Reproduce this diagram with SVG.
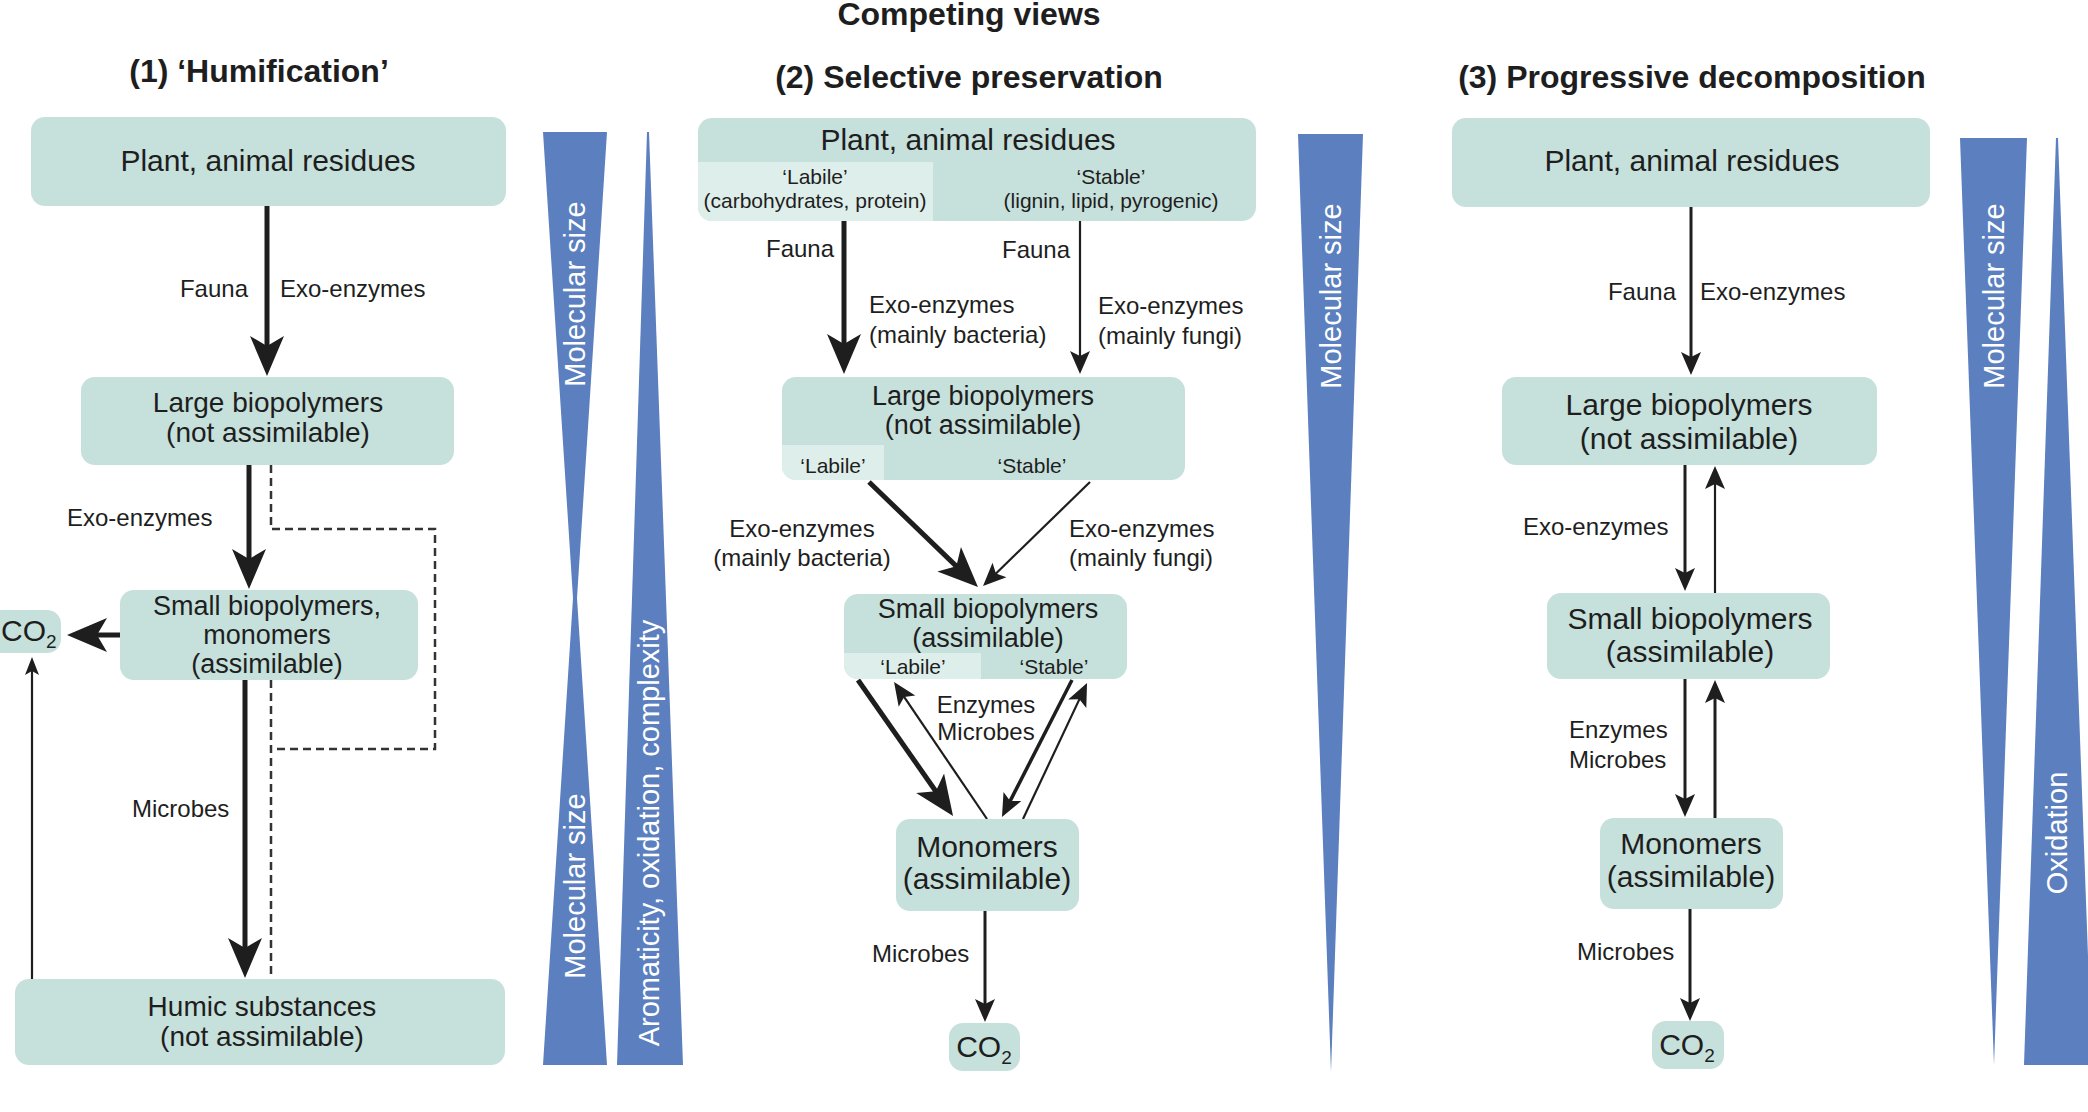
<svg xmlns="http://www.w3.org/2000/svg" width="2088" height="1112" viewBox="0 0 2088 1112">
<style>
.box{fill:#c6e0db}
.lite{fill:#deeeea}
text{font-family:"Liberation Sans",Arial,Helvetica,sans-serif;fill:#1e1e1e}
.bt{font-size:30px;text-anchor:middle}
.bt28{font-size:28px;text-anchor:middle}
.bt27{font-size:27px;text-anchor:middle}
.lb{font-size:24px}
.sb{font-size:21px;text-anchor:middle}
.ttl{font-size:32px;font-weight:bold;text-anchor:middle}
.wedge{fill:#5b7fbf}
.wl{font-size:29px;fill:#ffffff;text-anchor:middle}
.ln{stroke:#1e1e1e;fill:none}
.w5{stroke-width:5}
.w35{stroke-width:3.5}
.w3{stroke-width:3}
.w2{stroke-width:2.2}
.dash{stroke:#333;stroke-width:2.5;stroke-dasharray:8 5;fill:none}
.big{marker-end:url(#ah-big)}
.mid{marker-end:url(#ah-mid)}
.sml{marker-end:url(#ah-sml)}
.hd{fill:#1e1e1e}
</style>
<defs>
<marker id="ah-big" markerUnits="userSpaceOnUse" viewBox="-14 -18 44 36" markerWidth="44" markerHeight="36" refX="0" refY="0" orient="auto"><path class="hd" d="M28,0 L-12,-17 L-2,0 L-12,17 Z"/></marker>
<marker id="ah-mid" markerUnits="userSpaceOnUse" viewBox="-8 -11 27 22" markerWidth="27" markerHeight="22" refX="0" refY="0" orient="auto"><path class="hd" d="M17,0 L-6,-10 L-1,0 L-6,10 Z"/></marker>
<marker id="ah-sml" markerUnits="userSpaceOnUse" viewBox="-7 -8 22 16" markerWidth="22" markerHeight="16" refX="0" refY="0" orient="auto"><path class="hd" d="M13,0 L-5,-7 L-1,0 L-5,7 Z"/></marker>
<clipPath id="cp-p2a"><rect x="698" y="118" width="558" height="103" rx="14"/></clipPath>
<clipPath id="cp-p2b"><rect x="782" y="377" width="403" height="103" rx="14"/></clipPath>
<clipPath id="cp-p2c"><rect x="844" y="594" width="283" height="85" rx="14"/></clipPath>
</defs>

<g id="titles">
<text class="ttl" x="969" y="25">Competing views</text>
<text class="ttl" x="259" y="82">(1) ‘Humification’</text>
<text class="ttl" x="969" y="88">(2) Selective preservation</text>
<text class="ttl" x="1692" y="88">(3) Progressive decomposition</text>
</g>

<g id="wedges">
<polygon class="wedge" points="543,132 607,132 577,598 607,1065 543,1065 573,598"/>
<polygon class="wedge" points="647,132 649,132 683,1065 617,1065"/>
<polygon class="wedge" points="1298,134 1363,134 1331,1072"/>
<polygon class="wedge" points="1960,138 2027,138 1994,1065"/>
<polygon class="wedge" points="2056,138 2058,138 2092,1065 2024,1065"/>
<text class="wl" transform="translate(575,294) rotate(-90)" dy="10">Molecular size</text>
<text class="wl" transform="translate(575,886) rotate(-90)" dy="10">Molecular size</text>
<text class="wl" transform="translate(649,833) rotate(-90)" dy="10">Aromaticity, oxidation, complexity</text>
<text class="wl" transform="translate(1331,296) rotate(-90)" dy="10">Molecular size</text>
<text class="wl" transform="translate(1994,296) rotate(-90)" dy="10">Molecular size</text>
<text class="wl" transform="translate(2057,833) rotate(-90)" dy="10">Oxidation</text>
</g>

<g id="connectors">
<line class="ln w5 big" x1="267" y1="206" x2="267" y2="348"/>
<line class="ln w5 big" x1="249" y1="465" x2="249" y2="561"/>
<line class="ln w5 big" x1="245" y1="680" x2="245" y2="950"/>
<line class="ln w5 big" x1="120" y1="635" x2="95" y2="635"/>
<line class="ln w2 sml" x1="32" y1="979" x2="32" y2="670"/>
<path class="dash" d="M271,465 V529 H435 V749 H271"/>
<line class="dash" x1="271" y1="680" x2="271" y2="979"/>

<line class="ln w5 big" x1="844" y1="221" x2="844" y2="346"/>
<line class="ln w2 mid" x1="1080" y1="221" x2="1080" y2="357"/>
<line class="ln w5 big" x1="869" y1="482" x2="957.8" y2="567.6"/>
<line class="ln w2 mid" x1="1090" y1="482" x2="995.2" y2="574.2"/>
<line class="ln w5 big" x1="858" y1="680" x2="937" y2="793"/>
<line class="ln w2 mid" x1="987" y1="819" x2="903.6" y2="696.1"/>
<line class="ln w35 mid" x1="1072" y1="680" x2="1009.7" y2="801.9"/>
<line class="ln w2 mid" x1="1023" y1="819" x2="1079.8" y2="698.4"/>
<line class="ln w3 mid" x1="985" y1="911" x2="985" y2="1005"/>

<line class="ln w3 mid" x1="1691" y1="207" x2="1691" y2="358"/>
<line class="ln w3 mid" x1="1685" y1="465" x2="1685" y2="574"/>
<line class="ln w2 mid" x1="1715" y1="593" x2="1715" y2="483"/>
<line class="ln w3 mid" x1="1685" y1="679" x2="1685" y2="800"/>
<line class="ln w3 mid" x1="1715" y1="818" x2="1715" y2="697"/>
<line class="ln w3 mid" x1="1690" y1="909" x2="1690" y2="1004"/>
</g>

<g id="labels">
<text class="lb" x="248" y="297" text-anchor="end">Fauna</text>
<text class="lb" x="280" y="297">Exo-enzymes</text>
<text class="lb" x="67" y="526">Exo-enzymes</text>
<text class="lb" x="132" y="817">Microbes</text>

<text class="lb" x="766" y="257">Fauna</text>
<text class="lb" x="1002" y="258">Fauna</text>
<text class="lb"><tspan x="869" y="313">Exo-enzymes</tspan><tspan x="869" y="343">(mainly bacteria)</tspan></text>
<text class="lb"><tspan x="1098" y="314">Exo-enzymes</tspan><tspan x="1098" y="344">(mainly fungi)</tspan></text>
<text class="lb" text-anchor="middle"><tspan x="802" y="537">Exo-enzymes</tspan><tspan x="802" y="566">(mainly bacteria)</tspan></text>
<text class="lb"><tspan x="1069" y="537">Exo-enzymes</tspan><tspan x="1069" y="566">(mainly fungi)</tspan></text>
<text class="lb" text-anchor="middle"><tspan x="986" y="713">Enzymes</tspan><tspan x="986" y="740">Microbes</tspan></text>
<text class="lb" x="872" y="962">Microbes</text>

<text class="lb" x="1676" y="300" text-anchor="end">Fauna</text>
<text class="lb" x="1700" y="300">Exo-enzymes</text>
<text class="lb" x="1523" y="535">Exo-enzymes</text>
<text class="lb"><tspan x="1569" y="738">Enzymes</tspan><tspan x="1569" y="768">Microbes</tspan></text>
<text class="lb" x="1577" y="960">Microbes</text>
</g>

<g id="p1-plant">
<rect class="box" x="31" y="117" width="475" height="89" rx="14"/>
<text class="bt" x="268" y="171">Plant, animal residues</text>
</g>
<g id="p1-large">
<rect class="box" x="81" y="377" width="373" height="88" rx="14"/>
<text class="bt28"><tspan x="268" y="412">Large biopolymers</tspan><tspan x="268" y="442">(not assimilable)</tspan></text>
</g>
<g id="p1-small">
<rect class="box" x="120" y="590" width="298" height="90" rx="14"/>
<text class="bt27"><tspan x="267" y="615">Small biopolymers,</tspan><tspan x="267" y="644">monomers</tspan><tspan x="267" y="673">(assimilable)</tspan></text>
</g>
<g id="p1-co2">
<rect class="box" x="-14" y="610" width="75" height="43" rx="14"/>
<text x="1" y="641" font-size="30">CO<tspan dy="7" font-size="19">2</tspan></text>
</g>
<g id="p1-humic">
<rect class="box" x="15" y="979" width="490" height="86" rx="14"/>
<text class="bt28"><tspan x="262" y="1016">Humic substances</tspan><tspan x="262" y="1046">(not assimilable)</tspan></text>
</g>

<g id="p2-plant">
<rect class="box" x="698" y="118" width="558" height="103" rx="14"/>
<rect class="lite" x="698" y="162" width="235" height="59" clip-path="url(#cp-p2a)"/>
<text class="bt" x="968" y="150">Plant, animal residues</text>
<text class="sb"><tspan x="815" y="184">‘Labile’</tspan><tspan x="815" y="208">(carbohydrates, protein)</tspan></text>
<text class="sb"><tspan x="1111" y="184">‘Stable’</tspan><tspan x="1111" y="208">(lignin, lipid, pyrogenic)</tspan></text>
</g>
<g id="p2-large">
<rect class="box" x="782" y="377" width="403" height="103" rx="14"/>
<rect class="lite" x="782" y="445" width="102" height="35" clip-path="url(#cp-p2b)"/>
<text class="bt27"><tspan x="983" y="405">Large biopolymers</tspan><tspan x="983" y="434">(not assimilable)</tspan></text>
<text class="sb" x="833" y="473">‘Labile’</text>
<text class="sb" x="1032" y="473">‘Stable’</text>
</g>
<g id="p2-small">
<rect class="box" x="844" y="594" width="283" height="85" rx="14"/>
<rect class="lite" x="844" y="653" width="137" height="26" clip-path="url(#cp-p2c)"/>
<text class="bt27"><tspan x="988" y="618">Small biopolymers</tspan><tspan x="988" y="647">(assimilable)</tspan></text>
<text class="sb" x="913" y="674">‘Labile’</text>
<text class="sb" x="1054" y="674">‘Stable’</text>
</g>
<g id="p2-monomers">
<rect class="box" x="896" y="819" width="183" height="92" rx="14"/>
<text class="bt"><tspan x="987" y="857">Monomers</tspan><tspan x="987" y="889">(assimilable)</tspan></text>
</g>
<g id="p2-co2">
<rect class="box" x="949" y="1023" width="71" height="48" rx="14"/>
<text x="984" y="1057" font-size="30" text-anchor="middle">CO<tspan dy="7" font-size="19">2</tspan></text>
</g>

<g id="p3-plant">
<rect class="box" x="1452" y="118" width="478" height="89" rx="14"/>
<text class="bt" x="1692" y="171">Plant, animal residues</text>
</g>
<g id="p3-large">
<rect class="box" x="1502" y="377" width="375" height="88" rx="14"/>
<text class="bt"><tspan x="1689" y="415">Large biopolymers</tspan><tspan x="1689" y="449">(not assimilable)</tspan></text>
</g>
<g id="p3-small">
<rect class="box" x="1547" y="593" width="283" height="86" rx="14"/>
<text class="bt"><tspan x="1690" y="629">Small biopolymers</tspan><tspan x="1690" y="662">(assimilable)</tspan></text>
</g>
<g id="p3-monomers">
<rect class="box" x="1600" y="818" width="183" height="91" rx="14"/>
<text class="bt"><tspan x="1691" y="854">Monomers</tspan><tspan x="1691" y="887">(assimilable)</tspan></text>
</g>
<g id="p3-co2">
<rect class="box" x="1652" y="1021" width="72" height="48" rx="14"/>
<text x="1687" y="1055" font-size="30" text-anchor="middle">CO<tspan dy="7" font-size="19">2</tspan></text>
</g>
</svg>
